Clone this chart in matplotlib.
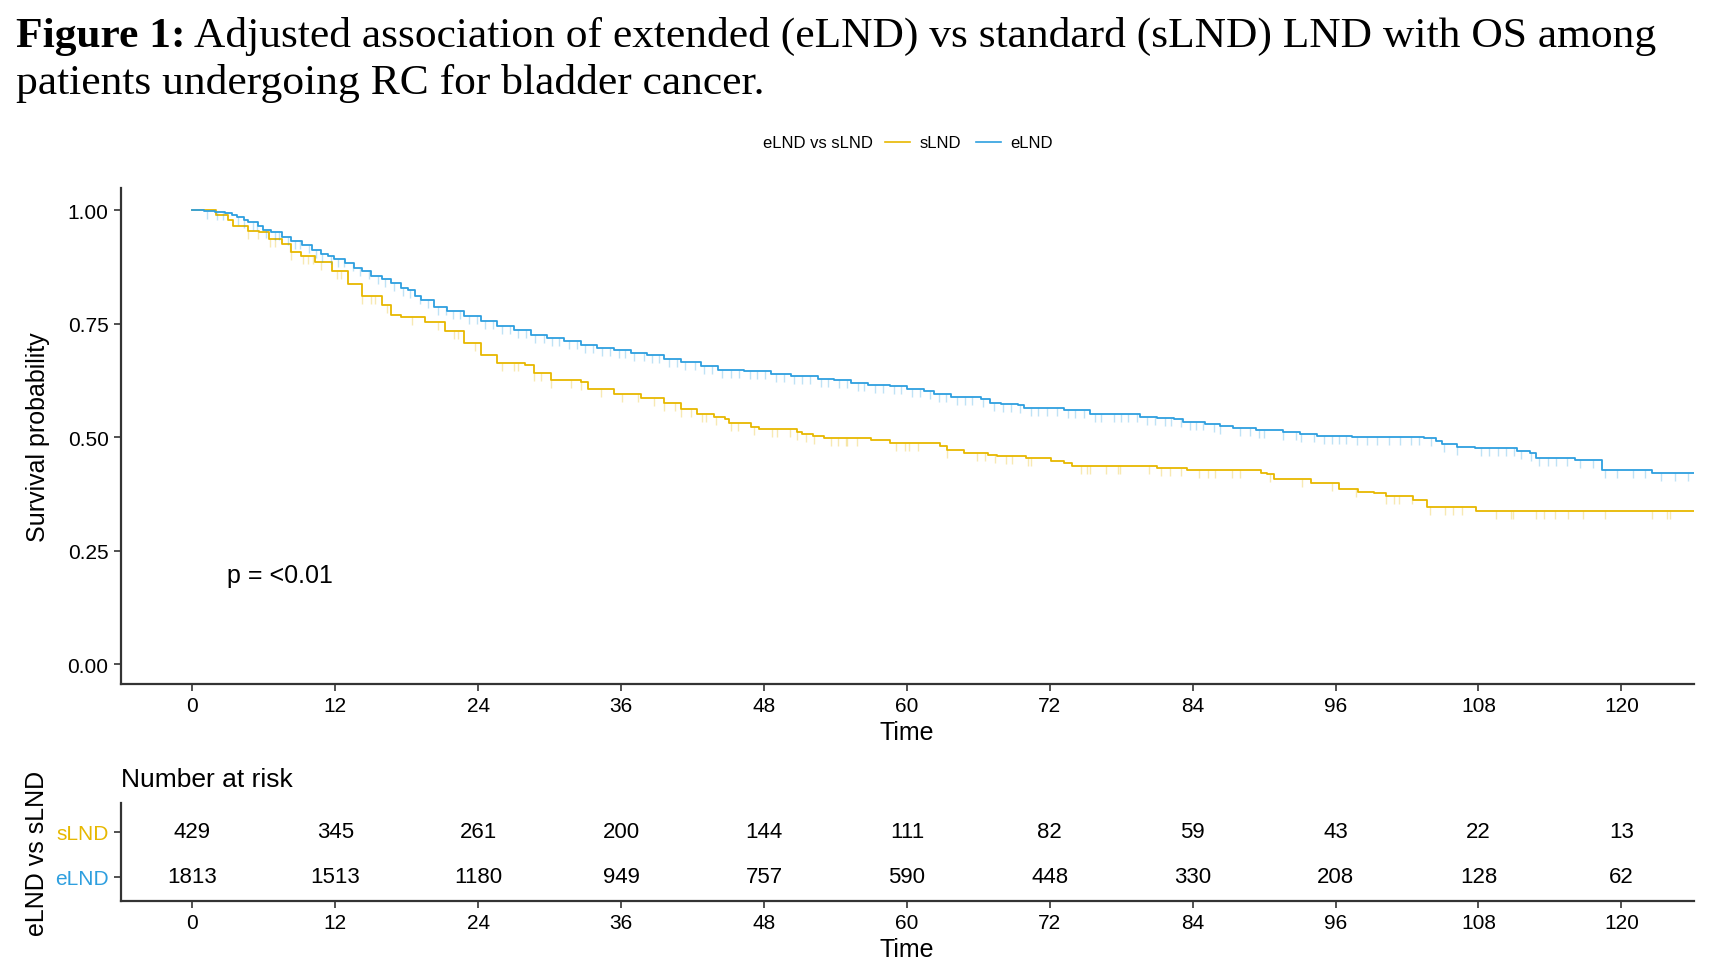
import numpy as np
import matplotlib

matplotlib.use("Agg")
import matplotlib.pyplot as plt
from matplotlib.lines import Line2D

plt.rcParams["font.family"] = ["Liberation Sans", "DejaVu Sans"]

SLND_COLOR = "#E7B800"
ELND_COLOR = "#2E9FDF"

# Kaplan-Meier steps (time in months, survival after step)
slnd_time = [0, 2.0, 3.0, 3.4, 4.7, 5.6, 6.4, 7.5, 8.3, 9.1, 10.3, 11.7, 13.1, 14.2,
             15.9, 16.7, 17.5, 19.5, 21.2, 22.8, 24.2, 25.6, 27.9, 28.7, 30.1, 32.6,
             33.2, 35.4, 37.7, 39.6, 41.0, 42.4, 43.8, 44.7, 45.1, 46.9, 47.6, 50.8,
             51.2, 52.1, 53.0, 57.0, 58.6, 62.8, 63.4, 64.8, 66.8, 67.6, 70.0, 72.1,
             73.2, 73.9, 81.0, 83.5, 89.7, 90.2, 90.8, 93.9, 96.3, 97.9, 99.2, 100.2,
             102.5, 103.7, 107.8, 130.0]
slnd_surv = [1.0, 0.990, 0.978, 0.965, 0.954, 0.951, 0.936, 0.925, 0.907, 0.899, 0.885,
             0.866, 0.837, 0.811, 0.792, 0.770, 0.765, 0.753, 0.734, 0.708, 0.682, 0.664,
             0.659, 0.642, 0.627, 0.621, 0.606, 0.596, 0.586, 0.575, 0.561, 0.550, 0.545,
             0.539, 0.531, 0.522, 0.517, 0.511, 0.507, 0.502, 0.497, 0.493, 0.486, 0.480,
             0.472, 0.465, 0.461, 0.459, 0.454, 0.447, 0.442, 0.436, 0.432, 0.427, 0.422,
             0.419, 0.408, 0.400, 0.386, 0.380, 0.377, 0.371, 0.362, 0.347, 0.338, 0.338]

elnd_time = [0, 1.0, 1.9, 2.7, 3.3, 3.7, 4.3, 4.7, 5.5, 5.9, 6.6, 7.5, 8.3, 9.2, 10.0,
             10.8, 11.4, 11.9, 12.8, 13.6, 14.2, 15.0, 15.9, 16.7, 17.5, 18.1, 18.7,
             19.2, 20.3, 21.4, 22.8, 24.2, 25.6, 27.0, 28.4, 29.8, 31.2, 32.6, 34.0,
             35.4, 36.8, 38.2, 39.6, 41.0, 42.7, 44.1, 46.3, 48.6, 50.3, 52.5, 53.9,
             55.3, 56.7, 58.6, 60.0, 61.4, 62.3, 63.7, 66.2, 67.0, 67.9, 69.3, 69.8,
             72.1, 73.2, 75.4, 77.1, 79.6, 81.0, 82.4, 83.2, 85.0, 86.3, 87.4, 89.3,
             91.6, 93.0, 94.4, 97.4, 103.4, 104.4, 104.9, 106.2, 107.7, 111.2, 112.3,
             112.8, 116.1, 118.4, 122.6, 130.0]
elnd_surv = [1.0, 0.998, 0.996, 0.993, 0.989, 0.986, 0.979, 0.974, 0.965, 0.957, 0.951,
             0.942, 0.932, 0.923, 0.912, 0.903, 0.899, 0.892, 0.883, 0.873, 0.866, 0.856,
             0.848, 0.839, 0.829, 0.825, 0.811, 0.803, 0.787, 0.779, 0.767, 0.756, 0.745,
             0.735, 0.726, 0.719, 0.711, 0.704, 0.697, 0.691, 0.686, 0.680, 0.673, 0.665,
             0.656, 0.649, 0.645, 0.640, 0.634, 0.629, 0.627, 0.620, 0.614, 0.612, 0.605,
             0.601, 0.596, 0.589, 0.583, 0.575, 0.572, 0.570, 0.565, 0.564, 0.559, 0.551,
             0.550, 0.545, 0.542, 0.539, 0.534, 0.530, 0.525, 0.520, 0.515, 0.511, 0.506,
             0.502, 0.500, 0.497, 0.491, 0.485, 0.478, 0.476, 0.470, 0.464, 0.455, 0.450,
             0.427, 0.421, 0.421]

slnd_censor = [4.7, 5.5, 6.5, 6.9, 8.2, 8.3, 9.3, 9.7, 10.1, 10.8, 12.1, 12.5, 14.2, 15.0,
               15.3, 16.3, 18.4, 20.6, 22.0, 22.3, 23.7, 26.0, 27.0, 27.3, 28.7, 29.3,
               30.1, 31.8, 32.6, 34.3, 36.1, 37.4, 38.8, 39.6, 40.5, 41.0, 41.9, 42.8,
               43.1, 44.0, 45.2, 45.8, 47.2, 48.7, 49.1, 50.2, 50.8, 51.5, 52.2, 53.6,
               54.2, 54.9, 55.0, 55.8, 59.1, 59.8, 60.2, 60.9, 63.4, 65.9, 66.6, 67.4,
               68.3, 68.8, 70.2, 70.4, 74.6, 75.1, 75.4, 76.7, 77.7, 77.9, 80.3, 81.3,
               82.1, 83.0, 84.5, 85.3, 85.9, 87.3, 88.0, 90.5, 93.2, 95.7, 97.7, 100.2,
               100.9, 101.3, 102.4, 103.9, 105.2, 105.9, 106.6, 109.5, 110.7, 110.9,
               112.8, 113.5, 114.4, 115.5, 116.8, 118.6, 122.6, 123.8, 124.1]
elnd_censor = [1.2, 2.1, 2.6, 3.8, 4.3, 5.1, 5.4, 6.2, 6.9, 7.3, 8.0, 8.6, 9.0, 9.8, 10.4,
               10.9, 11.6, 12.2, 12.7, 13.5, 14.1, 14.8, 15.6, 16.2, 16.9, 17.7, 18.3,
               19.1, 19.8, 20.6, 21.3, 21.9, 22.5, 23.2, 23.9, 24.6, 25.2, 26.0, 26.7,
               27.3, 28.0, 28.8, 29.5, 30.2, 30.8, 31.6, 32.3, 33.0, 33.6, 34.4, 35.1,
               35.8, 36.3, 37.1, 37.9, 38.6, 39.2, 40.0, 40.7, 41.4, 42.2, 43.0, 43.6,
               44.5, 45.2, 45.9, 46.8, 47.4, 48.1, 49.0, 49.7, 50.5, 51.2, 51.9, 52.8,
               53.4, 54.3, 55.0, 55.9, 56.4, 57.3, 58.0, 58.9, 59.5, 60.4, 61.1, 61.9,
               62.7, 63.3, 64.2, 64.9, 65.5, 66.4, 67.3, 68.1, 68.7, 69.5, 70.4, 71.0,
               71.8, 72.6, 73.5, 74.1, 74.9, 75.8, 76.3, 77.4, 78.0, 78.6, 79.3, 80.2,
               80.8, 81.7, 82.2, 83.0, 83.8, 84.3, 84.9, 85.8, 86.3, 88.0, 88.8, 89.6,
               90.0, 91.6, 92.7, 93.1, 94.2, 95.0, 95.7, 96.3, 96.9, 97.8, 98.6, 99.5,
               100.5, 101.4, 102.3, 103.0, 104.0, 105.1, 106.2, 108.2, 108.9, 109.6,
               110.3, 111.0, 111.6, 112.4, 113.1, 113.8, 114.5, 115.4, 116.5, 117.6,
               118.6, 119.6, 121.0, 122.0, 123.3, 124.5, 125.6]

risk_times = [0, 12, 24, 36, 48, 60, 72, 84, 96, 108, 120]
risk_slnd = [429, 345, 261, 200, 144, 111, 82, 59, 43, 22, 13]
risk_elnd = [1813, 1513, 1180, 949, 757, 590, 448, 330, 208, 128, 62]

groups = ["sLND", "eLND"]

W, H = 1726, 962


def fx(px):
    return px / W


def fy(py):
    return 1 - py / H


def surv_at(times, surv, t):
    idx = np.searchsorted(np.asarray(times), np.asarray(t), side="right") - 1
    return np.asarray(surv)[idx]


def style_axis(ax):
    for side in ["top", "right"]:
        ax.spines[side].set_visible(False)
    for side in ["left", "bottom"]:
        ax.spines[side].set_linewidth(1.6)
        ax.spines[side].set_color("#333333")
    ax.tick_params(length=5, width=1.2, color="#333333", labelsize=15, pad=4)


def main() -> None:
    fig = plt.figure(figsize=(W / 100, H / 100), dpi=100)

    # title: bold prefix followed by normal text
    title_size = 31.3
    t1 = fig.text(fx(16), fy(47), "Figure 1:", fontsize=title_size, fontweight="bold",
                  family="Liberation Serif", va="baseline", ha="left")
    fig.canvas.draw()
    r = fig.canvas.get_renderer()
    bb = t1.get_window_extent(r)
    fig.text(bb.x1 / W + fx(8), fy(47),
             "Adjusted association of extended (eLND) vs standard (sLND) LND with OS among",
             fontsize=title_size, family="Liberation Serif", va="baseline", ha="left")
    fig.text(fx(16), fy(94), "patients undergoing RC for bladder cancer.",
             fontsize=title_size, family="Liberation Serif", va="baseline", ha="left")

    # legend
    ly = fy(143)
    fig.text(fx(763), ly, "eLND vs sLND", fontsize=12, va="center", ha="left")
    for name, color, x0, xt in [("sLND", SLND_COLOR, 885, 920), ("eLND", ELND_COLOR, 976, 1010)]:
        fig.add_artist(Line2D([fx(x0), fx(x0 + 25)], [ly, ly], color=color, lw=1.2,
                              transform=fig.transFigure))
        fig.text(fx(xt), ly, name, fontsize=12, va="center", ha="left")

    # survival curves
    ax = fig.add_axes([fx(121), fy(685), fx(1694) - fx(121), fy(189) - fy(685)])
    censor_marker = [(0, 0), (0, -1)]
    for times, surv, cens, color in [
        (slnd_time, slnd_surv, slnd_censor, SLND_COLOR),
        (elnd_time, elnd_surv, elnd_censor, ELND_COLOR),
    ]:
        ax.plot(cens, surv_at(times, surv, cens), linestyle="none", marker=censor_marker,
                markersize=11, markeredgewidth=1.0, markeredgecolor=color, alpha=0.3)
        ax.plot(times, surv, drawstyle="steps-post", color=color, lw=1.3)

    ax.set_xlim(-6.0, 126.1)
    ax.set_ylim(-0.044, 1.049)
    ax.set_xticks(risk_times)
    ax.set_yticks([0, 0.25, 0.5, 0.75, 1.0])
    ax.set_yticklabels(["0.00", "0.25", "0.50", "0.75", "1.00"])
    style_axis(ax)
    ax.text(2.9, 0.196, "p = <0.01", fontsize=18, va="center", ha="left")

    fig.text(fx(38), fy(437), "Survival probability", fontsize=18, rotation=90,
             va="center", ha="center")
    fig.text(fx(907), fy(733), "Time", fontsize=18, va="center", ha="center")

    # number at risk table
    rax = fig.add_axes([fx(121), fy(902), fx(1694) - fx(121), fy(804) - fy(902)])
    for row, counts in [(2, risk_slnd), (1, risk_elnd)]:
        for t, n in zip(risk_times, counts):
            rax.text(t, row, str(n), fontsize=16, ha="center", va="center")
    rax.set_xlim(-6.0, 126.1)
    rax.set_ylim(0.465, 2.645)
    rax.set_xticks(risk_times)
    rax.set_yticks([2, 1])
    rax.set_yticklabels(groups)
    for lbl, color in zip(rax.get_yticklabels(), [SLND_COLOR, ELND_COLOR]):
        lbl.set_color(color)
    style_axis(rax)

    fig.text(fx(121), fy(780), "Number at risk", fontsize=19, va="center", ha="left")
    fig.text(fx(907), fy(950), "Time", fontsize=18, va="center", ha="center")
    fig.text(fx(37), fy(853), "eLND vs sLND", fontsize=18, rotation=90,
             va="center", ha="center")

    fig.savefig("out.png", dpi=100)


if __name__ == "__main__":
    main()
